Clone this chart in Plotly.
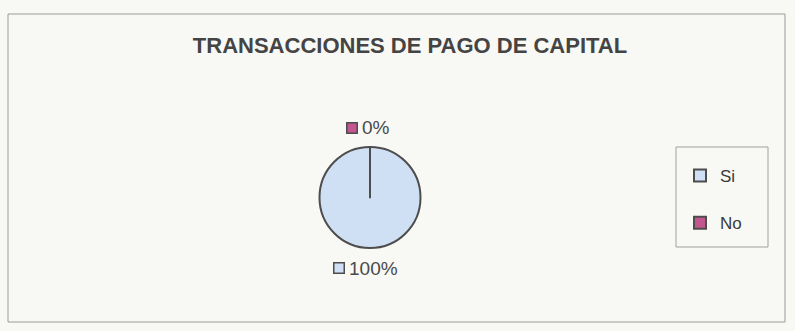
import plotly.graph_objects as go

categories = ["Si", "No"]
values = [100, 0]
colors = ["#cfe0f4", "#c2578f"]

W, H = 795, 331
ml, mr, mt, mb = 8, 10, 14, 9
pw, ph = W - ml - mr, H - mt - mb

def px_x(x):
    return (x - ml) / pw

def px_y(y):
    return 1 - (y - mt) / ph

total = sum(values)
pct_text = ["%d%%" % round(100 * v / total) for v in values]

# legend labels get an empty second line to space entries like the original
legend_labels = [c + "<br> " for c in categories]

fig = go.Figure(go.Pie(
    labels=legend_labels,
    values=values,
    sort=False,
    direction="clockwise",
    rotation=0,
    marker=dict(colors=colors, line=dict(color="#4d4d4d", width=2)),
    textinfo="none",
    domain=dict(x=[px_x(300), px_x(440)], y=[px_y(248), px_y(147)]),
    hovertext=categories,
    hoverinfo="text+percent",
    showlegend=True,
))

lab_font = dict(family="Liberation Sans, Arial", size=19, color="#4a4a4a")
# label positions: (square center x, y, text left x) for each slice
label_pos = {"Si": (339, 268, 347), "No": (352, 128, 360)}

annotations = []
for cat, col, txt in zip(categories, colors, pct_text):
    sx, sy, tx = label_pos[cat]
    annotations.append(dict(
        xref="paper", yref="paper", x=px_x(sx), y=px_y(sy),
        xanchor="center", yanchor="middle", text="", showarrow=False,
        width=9, height=9, bgcolor=col, bordercolor="#4d4d4d",
        borderwidth=1.5, borderpad=0))
    annotations.append(dict(
        xref="paper", yref="paper", x=px_x(tx), y=px_y(sy),
        xanchor="left", yanchor="middle", text=txt, showarrow=False,
        font=lab_font))

fig.update_layout(
    width=W, height=H,
    margin=dict(l=ml, r=mr, t=mt, b=mb),
    paper_bgcolor="#f8f8f4",
    plot_bgcolor="#f8f8f4",
    font=dict(family="Liberation Sans, Arial", color="#333333"),
    title=dict(text="<b>TRANSACCIONES DE PAGO DE CAPITAL</b>",
               x=px_x(410), xanchor="center", xref="paper",
               y=1 - 45 / H, yanchor="middle",
               font=dict(size=22, color="#444444")),
    legend=dict(x=px_x(680), y=px_y(158), xanchor="left", yanchor="top",
                bgcolor="rgba(0,0,0,0)", borderwidth=0, valign="top",
                font=dict(size=17, color="#3a3a3a"), itemwidth=30),
    annotations=annotations,
    shapes=[
        dict(type="rect", xref="paper", yref="paper", x0=0, x1=1, y0=0, y1=1,
             line=dict(color="#9a9a9a", width=1)),
        dict(type="rect", xref="paper", yref="paper",
             x0=px_x(676), x1=px_x(768), y0=px_y(247), y1=px_y(147),
             line=dict(color="#a0a0a0", width=1)),
    ],
)

fig.write_html("out.html")
